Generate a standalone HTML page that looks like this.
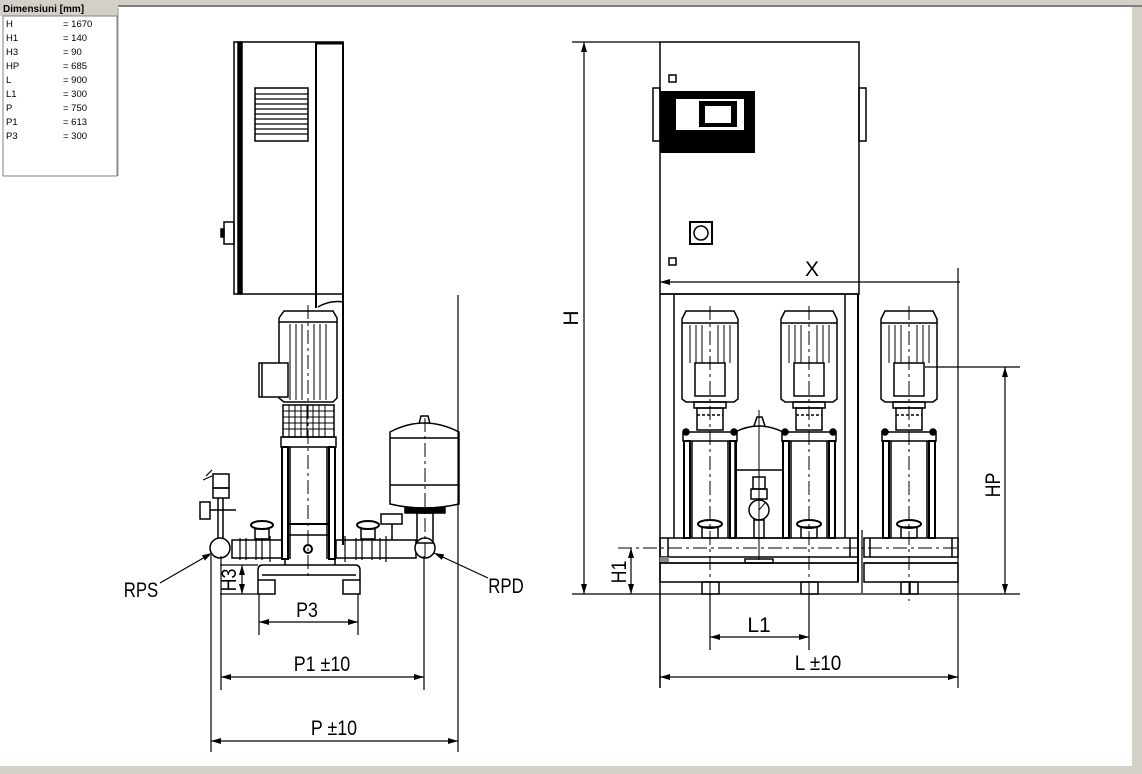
<!DOCTYPE html>
<html><head><meta charset="utf-8"><style>
html,body{margin:0;padding:0;background:#fff;}
body{width:1142px;height:774px;overflow:hidden;position:relative;}
svg{position:absolute;left:0;top:0;}
.t{font-family:"Liberation Sans Narrow","Liberation Sans",sans-serif;}
</style></head><body>
<svg width="1142" height="774" viewBox="0 0 1142 774" xmlns="http://www.w3.org/2000/svg">
<defs>
<marker id="ar" viewBox="0 0 10 6" refX="10" refY="3" markerWidth="10" markerHeight="6" orient="auto-start-reverse" markerUnits="userSpaceOnUse"><path d="M0,0L10,3L0,6z" fill="#000"/></marker>
<g id="pump" fill="none" stroke="#000" stroke-width="1.5">
  <path d="M-28,8 L-24,0 L24,0 L28,8 L28,88 L24,91 L-24,91 L-28,88 Z" fill="#fff"/>
  <line x1="-28" y1="12" x2="28" y2="12"/>
  <g stroke-width="1"><line x1="-20" y1="14" x2="-20" y2="52"/><line x1="-14" y1="14" x2="-14" y2="52"/><line x1="-8" y1="14" x2="-8" y2="52"/><line x1="8" y1="14" x2="8" y2="52"/><line x1="14" y1="14" x2="14" y2="52"/><line x1="20" y1="14" x2="20" y2="52"/></g>
  <rect x="-15" y="52" width="30" height="33"/>
  <rect x="-16" y="91" width="32" height="6"/>
  <rect x="-13" y="97" width="26" height="22"/>
  <line x1="-13" y1="104" x2="13" y2="104" stroke-dasharray="3,2"/>
  <rect x="-27" y="121" width="54" height="9" fill="#fff"/>
  <circle cx="-24" cy="121" r="3" fill="#000"/><circle cx="24" cy="121" r="3" fill="#000"/>
  <rect x="-26" y="130" width="6" height="97" stroke-width="2"/>
  <rect x="20" y="130" width="6" height="97" stroke-width="2"/>
  <line x1="-18" y1="130" x2="-18" y2="227"/><line x1="18" y1="130" x2="18" y2="227"/>
  <ellipse cx="0" cy="213" rx="12" ry="4" stroke-width="2"/>
  <rect x="-8" y="216" width="16" height="11"/>
  <line x1="0" y1="-5" x2="0" y2="290" stroke-width="1" stroke-dasharray="14,4,3,4"/>
</g>
</defs>

<!-- window frame -->
<rect x="0" y="0" width="1142" height="5" fill="#d4d0c8"/>
<rect x="0" y="5" width="1142" height="2" fill="#808080"/>
<rect x="1132" y="7" width="10" height="767" fill="#d4d0c8"/>
<rect x="0" y="766" width="1142" height="8" fill="#d4d0c8"/>

<!-- table -->
<rect x="0" y="0" width="118" height="16" fill="#d4d0c8"/>
<text class="t" x="3" y="12" font-family="Liberation Sans" font-size="10" font-weight="bold">Dimensiuni [mm]</text>
<rect x="3" y="16" width="114" height="160" fill="#fff" stroke="#808080"/>
<line x1="118" y1="8" x2="118" y2="176" stroke="#999"/>
<g font-family="Liberation Sans" font-size="9.5">
<text x="6" y="27">H</text><text x="63" y="27">= 1670</text>
<text x="6" y="41">H1</text><text x="63" y="41">= 140</text>
<text x="6" y="55">H3</text><text x="63" y="55">= 90</text>
<text x="6" y="69">HP</text><text x="63" y="69">= 685</text>
<text x="6" y="83">L</text><text x="63" y="83">= 900</text>
<text x="6" y="97">L1</text><text x="63" y="97">= 300</text>
<text x="6" y="111">P</text><text x="63" y="111">= 750</text>
<text x="6" y="125">P1</text><text x="63" y="125">= 613</text>
<text x="6" y="139">P3</text><text x="63" y="139">= 300</text>
</g>

<!-- LEFT VIEW -->
<g fill="none" stroke="#000" stroke-width="1.5">
  <rect x="234" y="42" width="109" height="252"/>
  <rect x="238" y="42" width="4" height="252" fill="#000"/>
  <line x1="316" y1="42" x2="316" y2="308" stroke-width="2"/>
  <line x1="316" y1="43" x2="343" y2="43" stroke-width="3"/>
  <line x1="343" y1="42" x2="343" y2="545" stroke-width="2"/>
  <path d="M318,307 Q330,300 343,302"/>
  <rect x="255" y="88" width="53" height="53"/>
  <g stroke-width="1.3"><line x1="255" y1="94" x2="308" y2="94"/><line x1="255" y1="99" x2="308" y2="99"/><line x1="255" y1="104" x2="308" y2="104"/><line x1="255" y1="109" x2="308" y2="109"/><line x1="255" y1="114" x2="308" y2="114"/><line x1="255" y1="119" x2="308" y2="119"/><line x1="255" y1="124" x2="308" y2="124"/><line x1="255" y1="129" x2="308" y2="129"/><line x1="255" y1="134" x2="308" y2="134"/></g>
  <rect x="224" y="222" width="10" height="22"/>
  <rect x="221" y="229" width="3" height="8" fill="#000"/>
  <!-- motor -->
  <path d="M279,318 L284,311 L333,311 L337,318 L337,398 L333,402 L284,402 L279,398 Z" fill="#fff"/>
  <line x1="279" y1="322" x2="337" y2="322"/>
  <g stroke-width="1"><line x1="290" y1="324" x2="290" y2="400"/><line x1="296" y1="324" x2="296" y2="400"/><line x1="302" y1="324" x2="302" y2="400"/><line x1="314" y1="324" x2="314" y2="400"/><line x1="320" y1="324" x2="320" y2="400"/><line x1="326" y1="324" x2="326" y2="400"/></g>
  <rect x="259" y="363" width="29" height="34" fill="#fff"/>
  <line x1="262" y1="363" x2="262" y2="397"/>
  <!-- grille -->
  <rect x="283" y="405" width="51" height="32"/>
  <g stroke-width="1"><line x1="283" y1="411" x2="334" y2="411"/><line x1="283" y1="417" x2="334" y2="417"/><line x1="283" y1="423" x2="334" y2="423"/><line x1="283" y1="429" x2="334" y2="429"/>
  <line x1="289" y1="405" x2="289" y2="437"/><line x1="295" y1="405" x2="295" y2="437"/><line x1="301" y1="405" x2="301" y2="437"/><line x1="307" y1="405" x2="307" y2="437"/><line x1="313" y1="405" x2="313" y2="437"/><line x1="319" y1="405" x2="319" y2="437"/><line x1="325" y1="405" x2="325" y2="437"/></g>
  <rect x="281" y="437" width="55" height="10"/>
  <rect x="282" y="447" width="6" height="112" stroke-width="2"/>
  <rect x="329" y="447" width="6" height="112" stroke-width="2"/>
  <line x1="290" y1="447" x2="290" y2="559"/><line x1="327" y1="447" x2="327" y2="559"/>
  <line x1="288" y1="524" x2="329" y2="524" stroke-width="2"/>
  <line x1="288" y1="535" x2="329" y2="535"/>
  <circle cx="308" cy="549" r="4" stroke-width="2"/>
  <line x1="308" y1="305" x2="308" y2="580" stroke-width="1" stroke-dasharray="14,4,3,4"/>
  <!-- manifold -->
  <rect x="232" y="540" width="50" height="18"/>
  <rect x="336" y="540" width="80" height="18"/>
  <g stroke-width="1.2"><line x1="240" y1="538" x2="240" y2="560"/><line x1="246" y1="538" x2="246" y2="560"/><line x1="256" y1="538" x2="256" y2="560"/><line x1="262" y1="538" x2="262" y2="560"/><line x1="270" y1="536" x2="270" y2="562"/><line x1="345" y1="536" x2="345" y2="562"/><line x1="356" y1="538" x2="356" y2="560"/><line x1="362" y1="538" x2="362" y2="560"/><line x1="372" y1="538" x2="372" y2="560"/><line x1="380" y1="538" x2="380" y2="560"/><line x1="386" y1="536" x2="386" y2="562"/></g>
  <circle cx="220" cy="548" r="10" fill="#fff"/>
  <circle cx="425" cy="548" r="10" fill="#fff"/>
  <!-- valve knobs -->
  <ellipse cx="262" cy="525" rx="11" ry="4" stroke-width="2"/><rect x="255" y="529" width="14" height="10"/>
  <ellipse cx="368" cy="525" rx="11" ry="4" stroke-width="2"/><rect x="361" y="529" width="14" height="10"/>
  <rect x="381" y="514" width="21" height="10"/>
  <line x1="392" y1="524" x2="392" y2="540"/>
  <!-- left valve cluster -->
  <rect x="213" y="474" width="16" height="14"/>
  <rect x="213" y="488" width="16" height="10"/>
  <rect x="200" y="502" width="10" height="17"/>
  <line x1="210" y1="510" x2="236" y2="510"/>
  <line x1="218" y1="498" x2="218" y2="538"/><line x1="223" y1="498" x2="223" y2="538"/>
  <path d="M203,480 L212,476 M206,476 L212,470" stroke-width="1.2"/>
  <!-- tank -->
  <path d="M390,432 Q424,414 459,432 L459,504 Q424,512 390,504 Z" fill="#fff"/>
  <path d="M419,424 L421,416 L428,416 L430,424"/>
  <line x1="390" y1="438" x2="459" y2="438"/>
  <line x1="390" y1="485" x2="459" y2="485"/>
  <rect x="405" y="508" width="40" height="5" fill="#000"/>
  <rect x="417" y="513" width="16" height="30"/>
  <line x1="425" y1="418" x2="425" y2="560" stroke-width="1" stroke-dasharray="14,4,3,4"/>
  <!-- base -->
  <path d="M258,580 L258,570 Q258,565 263,565 L355,565 Q360,565 360,570 L360,580"/>
  <line x1="262" y1="575" x2="356" y2="575"/>
  <line x1="285" y1="559" x2="285" y2="565"/><line x1="335" y1="559" x2="335" y2="565"/>
  <rect x="258" y="580" width="17" height="14"/>
  <rect x="343" y="580" width="17" height="14"/>
  <!-- dimensions left -->
  <g stroke-width="1.2">
  <line x1="211" y1="555" x2="211" y2="752"/>
  <line x1="458" y1="295" x2="458" y2="752"/>
  <line x1="221" y1="556" x2="221" y2="690"/>
  <line x1="424" y1="556" x2="424" y2="690"/>
  <line x1="259" y1="594" x2="259" y2="635"/>
  <line x1="358" y1="594" x2="358" y2="635"/>
  <line x1="259" y1="622" x2="358" y2="622" marker-start="url(#ar)" marker-end="url(#ar)"/>
  <line x1="221" y1="677" x2="424" y2="677" marker-start="url(#ar)" marker-end="url(#ar)"/>
  <line x1="211" y1="741" x2="458" y2="741" marker-start="url(#ar)" marker-end="url(#ar)"/>
  <line x1="220" y1="565" x2="258" y2="565"/>
  <line x1="220" y1="594" x2="258" y2="594"/>
  <line x1="242" y1="565" x2="242" y2="594" marker-start="url(#ar)" marker-end="url(#ar)"/>
  <line x1="160" y1="583" x2="212" y2="553" marker-end="url(#ar)"/>
  <line x1="488" y1="578" x2="434" y2="553" marker-end="url(#ar)"/>
  </g>
</g>
<g class="t" font-size="21" fill="#000">
  <text x="307" y="617" text-anchor="middle" transform="translate(307,0) scale(0.85,1) translate(-307,0)">P3</text>
  <text x="322" y="671" text-anchor="middle" transform="translate(322,0) scale(0.85,1) translate(-322,0)">P1 ±10</text>
  <text x="334" y="735" text-anchor="middle" transform="translate(334,0) scale(0.85,1) translate(-334,0)">P ±10</text>
  <text x="141" y="597" text-anchor="middle" transform="translate(141,0) scale(0.8,1) translate(-141,0)">RPS</text>
  <text x="506" y="593" text-anchor="middle" transform="translate(506,0) scale(0.8,1) translate(-506,0)">RPD</text>
  <text transform="translate(236,580) rotate(-90) scale(0.85,1)" text-anchor="middle">H3</text>
  <text transform="translate(578,318) rotate(-90)" text-anchor="middle">H</text>
  <text transform="translate(626,572) rotate(-90) scale(0.85,1)" text-anchor="middle">H1</text>
  <text transform="translate(1000,485) rotate(-90) scale(0.85,1)" text-anchor="middle">HP</text>
  <text x="812" y="276" text-anchor="middle">X</text>
  <text x="759" y="632" text-anchor="middle">L1</text>
  <text x="818" y="670" text-anchor="middle" transform="translate(818,0) scale(0.9,1) translate(-818,0)">L ±10</text>
</g>

<!-- RIGHT VIEW -->
<g fill="none" stroke="#000" stroke-width="1.5">
  <rect x="660" y="42" width="199" height="252"/>
  <rect x="653" y="88" width="7" height="53"/>
  <rect x="859" y="88" width="7" height="53"/>
  <rect x="660" y="91" width="95" height="62" fill="#000" stroke="none"/>
  <rect x="676" y="99" width="68" height="31" fill="#fff" stroke="none"/>
  <rect x="699" y="101" width="38" height="26" fill="#000" stroke="none"/>
  <rect x="705" y="106" width="26" height="17" fill="#fff" stroke="none"/>
  <rect x="669" y="75" width="7" height="7"/>
  <rect x="669" y="258" width="7" height="7"/>
  <rect x="690" y="222" width="22" height="22" stroke-width="2"/>
  <circle cx="701" cy="233" r="7" stroke-width="1.5"/>
  <line x1="572" y1="42" x2="660" y2="42" stroke-width="1.2"/>
  <line x1="660" y1="282" x2="960" y2="282" stroke-width="1.2" marker-start="url(#ar)"/>
  <line x1="958" y1="268" x2="958" y2="688" stroke-width="1.2"/>
  <!-- frame -->
  <line x1="660" y1="294" x2="660" y2="688" stroke-width="1.5"/>
  <line x1="858" y1="294" x2="858" y2="582" stroke-width="2"/>
  <line x1="674" y1="294" x2="674" y2="538"/>
  <line x1="845" y1="294" x2="845" y2="538"/>
  <line x1="660" y1="294" x2="858" y2="294"/>
  <!-- small tank -->
  <path d="M735,432 Q759,420 783,432 L783,538 L735,538 Z" fill="#fff"/>
  <path d="M754,426 L757,417 L762,417 L765,426"/>
  <line x1="736" y1="470" x2="782" y2="470"/>
  <rect x="753" y="477" width="12" height="12"/>
  <rect x="751" y="489" width="16" height="10"/>
  <circle cx="759" cy="510" r="10" fill="#fff"/>
  <line x1="759" y1="510" x2="765" y2="503" stroke-width="1"/>
  <rect x="754" y="520" width="10" height="18"/>
  <line x1="759" y1="410" x2="759" y2="560" stroke-width="1"/>
</g>
<use href="#pump" x="710" y="311"/>
<use href="#pump" x="809" y="311"/>
<use href="#pump" x="909" y="311"/>
<g fill="none" stroke="#000" stroke-width="1.5">
  <!-- base -->
  <rect x="660" y="538" width="198" height="19" fill="none"/>
  <rect x="864" y="538" width="94" height="19"/>
  <line x1="668" y1="538" x2="668" y2="557"/><line x1="850" y1="538" x2="850" y2="557"/>
  <line x1="870" y1="538" x2="870" y2="557"/><line x1="952" y1="538" x2="952" y2="557"/>
  <line x1="660" y1="563" x2="858" y2="563"/>
  <line x1="864" y1="563" x2="958" y2="563"/>
  <rect x="660" y="557" width="9" height="5" fill="#888" stroke="none"/>
  <rect x="745" y="559" width="28" height="4"/>
  <rect x="660" y="563" width="198" height="19"/>
  <rect x="864" y="563" width="94" height="19"/>
  <line x1="862" y1="530" x2="862" y2="593" stroke-width="1.2"/>
  <rect x="702" y="582" width="17" height="12"/>
  <rect x="801" y="582" width="17" height="12"/>
  <rect x="901" y="582" width="17" height="12"/>
  <line x1="910" y1="582" x2="910" y2="594"/>
  <line x1="618" y1="548" x2="960" y2="548" stroke-width="1" stroke-dasharray="14,4,3,4"/>
  <!-- dimensions right -->
  <g stroke-width="1.2">
  <line x1="572" y1="594" x2="1020" y2="594"/>
  <line x1="584" y1="42" x2="584" y2="594" marker-start="url(#ar)" marker-end="url(#ar)"/>
  <line x1="631" y1="548" x2="631" y2="594" marker-start="url(#ar)" marker-end="url(#ar)"/>
  <line x1="925" y1="367" x2="1020" y2="367"/>
  <line x1="1005" y1="367" x2="1005" y2="594" marker-start="url(#ar)" marker-end="url(#ar)"/>
  <line x1="710" y1="594" x2="710" y2="650"/>
  <line x1="809" y1="594" x2="809" y2="650"/>
  <line x1="710" y1="637" x2="809" y2="637" marker-start="url(#ar)" marker-end="url(#ar)"/>
  <line x1="660" y1="677" x2="958" y2="677" marker-start="url(#ar)" marker-end="url(#ar)"/>
  </g>
</g>
</svg>
</body></html>
